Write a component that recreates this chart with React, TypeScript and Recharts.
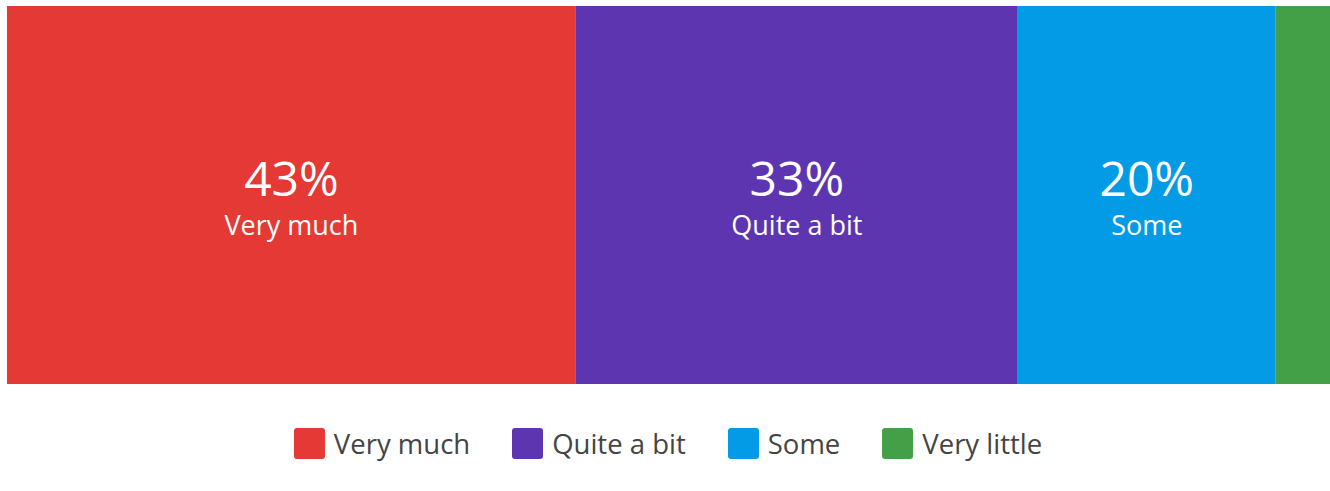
import { BarChart, Bar, XAxis, YAxis, LabelList } from 'recharts';

const categories = ['Very much', 'Quite a bit', 'Some', 'Very little'];
const values = [43.0, 33.4, 19.5, 4.1];
const shownLabels = ['43%', '33%', '20%', ''];
const COLORS = ['#E53935', '#5E35B1', '#039BE5', '#43A047'];

const row: Record<string, number | string> = { name: 'answers' };
categories.forEach((c, i) => {
  row[c] = values[i];
});
const data = [row];

const FONT = '"Open Sans", sans-serif';

function makeLabel(index: number) {
  return (props: any) => {
    const { x, y, width, height } = props;
    const text = shownLabels[index];
    if (!text) return null;
    const cx = x + width / 2;
    const cy = y + height / 2;
    return (
      <g>
        <text x={cx} y={cy + 1} textAnchor="middle" fill="#fff" fontSize={48} fontFamily={FONT}>
          {text}
        </text>
        <text x={cx} y={cy + 40} textAnchor="middle" fill="#fff" fontSize={27} fontFamily={FONT}>
          {categories[index]}
        </text>
      </g>
    );
  };
}

export default function App() {
  return (
    <div style={{ position: 'absolute', left: 0, top: 0, width: 1330, height: 491, background: '#fff' }}>
      <BarChart
        width={1330}
        height={491}
        layout="vertical"
        data={data}
        margin={{ top: 6, right: 0, left: 7, bottom: 107 }}
        barCategoryGap={0}
      >
        <XAxis type="number" domain={[0, 100]} hide />
        <YAxis type="category" dataKey="name" hide />
        {categories.map((c, i) => (
          <Bar key={c} dataKey={c} stackId="a" fill={COLORS[i]} isAnimationActive={false}>
            <LabelList dataKey={c} content={makeLabel(i)} />
          </Bar>
        ))}
      </BarChart>
      <div
        style={{
          position: 'absolute',
          top: 425,
          left: 0,
          width: 1330,
          display: 'flex',
          justifyContent: 'center',
          alignItems: 'center',
          fontFamily: FONT,
          fontSize: 27.5,
          color: '#444',
          paddingLeft: 6,
          boxSizing: 'border-box',
        }}
      >
        {categories.map((c, i) => (
          <div key={c} style={{ display: 'flex', alignItems: 'center', marginRight: i < categories.length - 1 ? 42 : 0 }}>
            <span
              style={{
                display: 'inline-block',
                width: 31,
                height: 31,
                borderRadius: 3,
                background: COLORS[i],
                marginRight: 9,
              }}
            />
            <span>{c}</span>
          </div>
        ))}
      </div>
    </div>
  );
}
